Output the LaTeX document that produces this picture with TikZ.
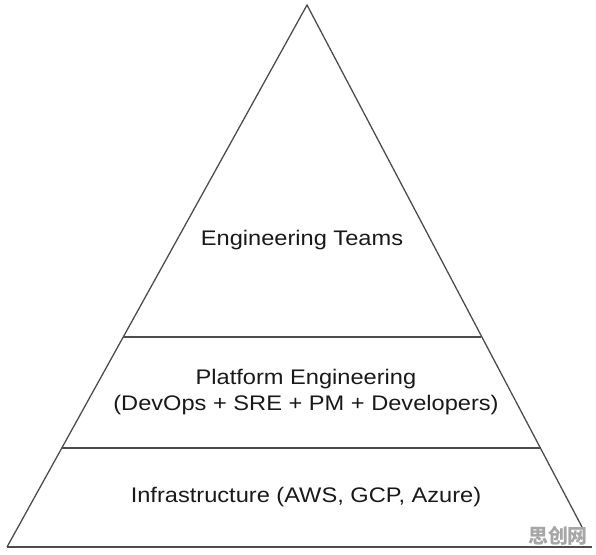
\documentclass[tikz,border=0pt]{standalone}
\usepackage{fontspec}
\setmainfont[FakeStretch=1.12]{Liberation Sans}
\newfontfamily\cjkfont{Noto Sans CJK SC}
\usepackage{tikz}
\usetikzlibrary{positioning}
\tikzset{
    edge line/.style={draw=black!70, line width=1.1pt}, % the sides of the pyramid and the layer lines
    layer text/.style={font=\fontsize{18}{22}\selectfont, text=black!90, align=center}, % text in each layer
    }

\begin{document}
\begin{tikzpicture}[x=0.03cm, y=-0.03cm, watermark/.style={font=\cjkfont\bfseries\fontsize{17}{17}\selectfont, text=black!35}]
\useasboundingbox (0,0) rectangle (596,554);
\coordinate (apex) at (307,5);
\coordinate (baseL) at (7,547);
\coordinate (baseR) at (592,547);
\coordinate (sideR) at (582,527);
\coordinate (topL) at (123,337);
\coordinate (topR) at (481,337);
\coordinate (midL) at (62,448);
\coordinate (midR) at (541,448);

\draw[edge line] (baseL) -- (apex) -- (sideR);
\draw[edge line] (baseL) -- (baseR);
\draw[edge line] (topL) -- (topR);
\draw[edge line] (midL) -- (midR);

\node[layer text] (teams) at (302,240) {Engineering Teams};
\node[layer text] (platform) at (306,392) {Platform Engineering\\(DevOps + SRE + PM + Developers)};
\node[layer text] (infra) at (306,497) {Infrastructure (AWS, GCP, Azure)};
\node[watermark] (mark) at (558,536) {思创网};
\end{tikzpicture}
\end{document}
